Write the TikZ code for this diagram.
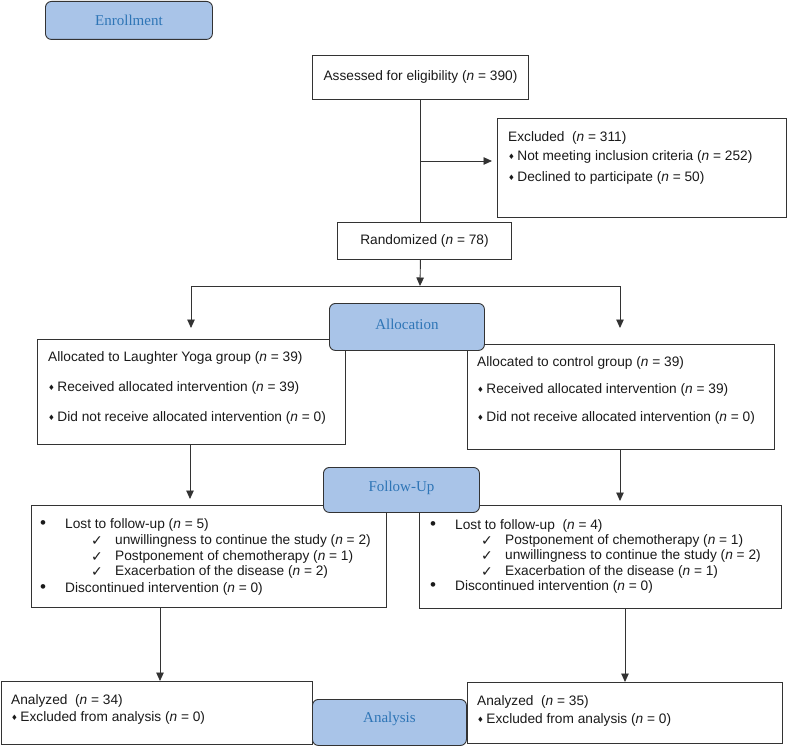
\documentclass[tikz,border=0pt]{standalone}
\usepackage{fontspec}
\setmainfont{Liberation Sans}
\newfontfamily\hdrfont{Liberation Serif}
\newfontfamily\symfont{DejaVu Sans}
\usetikzlibrary{arrows.meta}
\definecolor{hdrfill}{HTML}{A9C4E8}
\definecolor{hdrtext}{HTML}{2E75B6}
\definecolor{lncol}{HTML}{333333}
\definecolor{ink}{HTML}{1A1A1A}
\newcommand\dm{{\symfont\fontsize{7.5}{8}\selectfont\raisebox{0.3ex}{♦}}\hspace{2.5pt}}
\newcommand\ck{{\symfont\fontsize{14}{14}\selectfont ✓}}
\newcommand\bul{{\fontsize{17}{17}\selectfont •}}
\begin{document}
\begin{tikzpicture}[x=1pt,y=-1pt,
  box/.style={draw=lncol, line width=0.9pt, fill=white, inner sep=0pt, anchor=north west, text=ink, font=\fontsize{13.7}{16}\selectfont},
  hdr/.style={draw=lncol, line width=0.9pt, fill=hdrfill, rounded corners=6pt, inner sep=0pt, anchor=north west, text=hdrtext, font=\hdrfont\fontsize{15}{18}\selectfont},
  hdrtxt/.style={inner sep=0pt, text=hdrtext, font=\hdrfont\fontsize{15}{18}\selectfont},
  txt/.style={anchor=west, inner sep=0pt, text=ink, font=\fontsize{13.7}{16}\selectfont},
  ln/.style={draw=lncol, line width=0.9pt},
  arr/.style={draw=lncol, line width=0.9pt, -{Triangle[length=8.5pt,width=7.5pt]}}]
\useasboundingbox (0,0) rectangle (787,746);

% boxes
\node[box, minimum width=216pt, minimum height=44pt] (assess) at (312,55) {Assessed for eligibility (\textit{n} = 390)};
\node[box, minimum width=289pt, minimum height=99pt] (excl) at (497,118) {};
\node[box, minimum width=174pt, minimum height=37pt] (rand) at (337,222) {Randomized (\textit{n} = 78)};
\node[box, minimum width=308pt, minimum height=105pt] (allocL) at (37,339) {};
\node[box, minimum width=307pt, minimum height=105pt] (allocR) at (467,344) {};
\node[box, minimum width=355pt, minimum height=102pt] (fuL) at (31,505) {};
\node[box, minimum width=362pt, minimum height=103pt] (fuR) at (419,505) {};
\node[box, minimum width=311pt, minimum height=63pt] (anL) at (0.5,681) {};
\node[box, minimum width=315pt, minimum height=61pt] (anR) at (467,682) {};

% texts: excluded
\node[txt] (ex1) at (508,138) {Excluded\ \ (\textit{n} = 311)};
\node[txt] (ex2) at (508,157) {\dm Not meeting inclusion criteria (\textit{n} = 252)};
\node[txt] (ex3) at (508,178) {\dm Declined to participate (\textit{n} = 50)};

% allocation left
\node[txt] (al1) at (48,358) {Allocated to Laughter Yoga group (\textit{n} = 39)};
\node[txt] (al2) at (48,388) {\dm Received allocated intervention (\textit{n} = 39)};
\node[txt] (al3) at (48,418) {\dm Did not receive allocated intervention (\textit{n} = 0)};

% allocation right
\node[txt] (ar1) at (477,363) {Allocated to control group (\textit{n} = 39)};
\node[txt] (ar2) at (477,390) {\dm Received allocated intervention (\textit{n} = 39)};
\node[txt] (ar3) at (477,418) {\dm Did not receive allocated intervention (\textit{n} = 0)};

% follow-up left
\node[txt] (fl1b) at (40,525) {\bul};
\node[txt] (fl1) at (65,525) {Lost to follow-up (\textit{n} = 5)};
\node[txt] (fl2c) at (91,541) {\ck};
\node[txt] (fl2) at (115,541) {unwillingness to continue the study (\textit{n} = 2)};
\node[txt] (fl3c) at (91,557) {\ck};
\node[txt] (fl3) at (115,557) {Postponement of chemotherapy (\textit{n} = 1)};
\node[txt] (fl4c) at (91,572) {\ck};
\node[txt] (fl4) at (115,572) {Exacerbation of the disease (\textit{n} = 2)};
\node[txt] (fl5b) at (40,589) {\bul};
\node[txt] (fl5) at (65,589) {Discontinued intervention (\textit{n} = 0)};

% follow-up right
\node[txt] (fr1b) at (430,526) {\bul};
\node[txt] (fr1) at (455,526) {Lost to follow-up\ \ (\textit{n} = 4)};
\node[txt] (fr2c) at (481,541) {\ck};
\node[txt] (fr2) at (505,541) {Postponement of chemotherapy (\textit{n} = 1)};
\node[txt] (fr3c) at (481,556) {\ck};
\node[txt] (fr3) at (505,556) {unwillingness to continue the study (\textit{n} = 2)};
\node[txt] (fr4c) at (481,572) {\ck};
\node[txt] (fr4) at (505,572) {Exacerbation of the disease (\textit{n} = 1)};
\node[txt] (fr5b) at (430,587) {\bul};
\node[txt] (fr5) at (455,587) {Discontinued intervention (\textit{n} = 0)};

% analyzed
\node[txt] (nl1) at (11,701) {Analyzed\ \ (\textit{n} = 34)};
\node[txt] (nl2) at (11,718) {\dm Excluded from analysis (\textit{n} = 0)};
\node[txt] (nr1) at (477,702) {Analyzed\ \ (\textit{n} = 35)};
\node[txt] (nr2) at (477,720) {\dm Excluded from analysis (\textit{n} = 0)};

% connectors
\coordinate (jx) at (420,161);
\coordinate (split) at (420,286);
\coordinate (splitL) at (191,286);
\coordinate (splitR) at (620,286);
\coordinate (tipL) at (191,328);
\coordinate (tipR) at (620,328);
\draw[ln] (assess.south) -- (assess.south |- rand.north);
\draw[arr] (jx) -- ([xshift=-5pt]jx -| excl.west);
\draw[arr] (assess.south |- rand.south) -- (split);
\draw[ln] (splitL) -- (splitR);
\draw[arr] (splitL) -- (tipL);
\draw[arr] (splitR) -- (tipR);
\draw[arr] (allocL.south -| 190,0) -- ([yshift=6pt]fuL.north -| 190,0);
\draw[arr] (allocR.south -| 620,0) -- ([yshift=4pt]fuR.north -| 620,0);
\draw[arr] (fuL.south -| 160,0) -- (anL.north -| 160,0);
\draw[arr] (fuR.south -| 625,0) -- (anR.north -| 625,0);

% headers
\node[hdr, minimum width=167pt, minimum height=38pt] (enr) at (45,1) {};
\node[hdrtxt] (enrT) at (enr.center) {Enrollment};
\node[hdr, minimum width=155pt, minimum height=47pt] (alc) at (329,303) {};
\node[hdrtxt] (alcT) at ([yshift=3pt]alc.center) {Allocation};
\node[hdr, minimum width=156pt, minimum height=45pt] (fup) at (323,467) {};
\node[hdrtxt] (fupT) at ([yshift=2pt]fup.center) {Follow-Up};
\node[hdr, minimum width=154pt, minimum height=46pt] (ana) at (312,699) {};
\node[hdrtxt] (anaT) at ([yshift=4pt]ana.center) {Analysis};
\end{tikzpicture}
\end{document}
